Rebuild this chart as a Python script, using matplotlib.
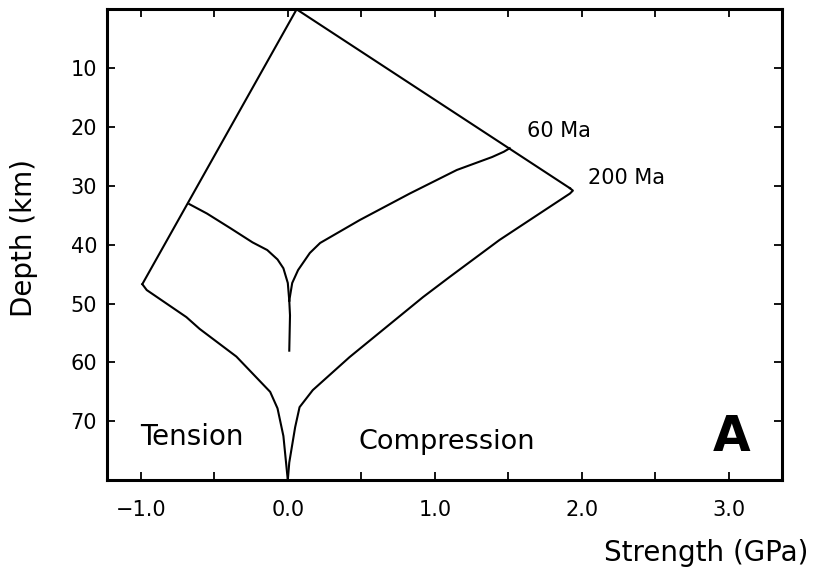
import matplotlib
matplotlib.use("Agg")
import matplotlib.pyplot as plt

# Brittle (frictional) envelope, strength in GPa vs depth in km
brittle_t_x = [0.06, -0.99]
brittle_t_z = [0.0, 46.7]
brittle_c_x = [0.06, 1.92]
brittle_c_z = [0.0, 30.4]

# 60 Ma ductile curve
ma60_t_x = [-0.67, -0.55, -0.39, -0.24, -0.14, -0.07, -0.03, 0.0, 0.01]
ma60_t_z = [33.1, 34.7, 37.2, 39.6, 40.9, 42.5, 44.0, 46.5, 49.5]
ma60_tail_x = [0.01, 0.015, 0.01]
ma60_tail_z = [49.5, 52.0, 58.0]
ma60_c_x = [0.01, 0.03, 0.07, 0.15, 0.22, 0.49, 0.83, 1.15, 1.39, 1.47, 1.51]
ma60_c_z = [49.5, 46.5, 44.3, 41.4, 39.7, 35.8, 31.3, 27.3, 25.1, 24.2, 23.6]

# 200 Ma ductile curve
ma200_t_x = [-0.99, -0.96, -0.69, -0.6, -0.35, -0.12, -0.07, -0.03, 0.0]
ma200_t_z = [46.7, 47.7, 52.3, 54.3, 59.0, 65.0, 67.8, 72.5, 80.0]
ma200_c_x = [0.0, 0.01, 0.05, 0.08, 0.17, 0.42, 0.92, 1.1, 1.44, 1.78, 1.92, 1.94, 1.92]
ma200_c_z = [80.0, 77.0, 71.0, 67.6, 64.7, 59.1, 48.9, 45.5, 39.2, 33.6, 31.3, 30.8, 30.4]

xticks = [-1.0, 0.0, 1.0, 2.0, 3.0]
xtick_labels = ["\u22121.0", "0.0", "1.0", "2.0", "3.0"]
xminor = [-0.5, 0.5, 1.5, 2.5]
yticks = [10, 20, 30, 40, 50, 60, 70]

fig = plt.figure(figsize=(8.16, 5.82), dpi=100)
ax = fig.add_axes([0.131, 0.175, 0.827, 0.809])

kw = dict(color="black", lw=1.5, solid_joinstyle="round")
ax.plot(brittle_t_x, brittle_t_z, **kw)
ax.plot(brittle_c_x, brittle_c_z, **kw)
ax.plot(ma60_t_x, ma60_t_z, **kw)
ax.plot(ma60_tail_x, ma60_tail_z, **kw)
ax.plot(ma60_c_x, ma60_c_z, **kw)
ax.plot(ma200_t_x, ma200_t_z, **kw)
ax.plot(ma200_c_x, ma200_c_z, **kw)

ax.set_xlim(-1.231, 3.361)
ax.set_ylim(80, 0)

ax.set_xticks(xticks)
ax.set_xticklabels(xtick_labels)
ax.set_xticks(xminor, minor=True)
ax.set_yticks(yticks)
ax.tick_params(which="both", direction="in", length=6, width=1.3,
               top=True, right=True, labelsize=15, colors="black")
ax.tick_params(axis="x", which="major", pad=14)
ax.tick_params(axis="y", which="major", pad=7)
for s in ax.spines.values():
    s.set_linewidth(2.2)

ax.text(-1.007, 74.0, "Tension", fontsize=20, ha="left", va="baseline")
ax.text(0.483, 74.7, "Compression", fontsize=19.5, ha="left", va="baseline")
ax.text(2.89, 75.0, "A", fontsize=35, fontweight="bold", ha="left", va="baseline")
ax.text(1.626, 21.7, "60 Ma", fontsize=15, ha="left", va="baseline")
ax.text(2.04, 29.7, "200 Ma", fontsize=15, ha="left", va="baseline")

fig.text(0.991, 0.036, "Strength (GPa)", fontsize=20, ha="right", va="baseline")
fig.text(0.029, 0.591, "Depth (km)", fontsize=20, rotation=90, ha="center", va="center")

fig.savefig("out.png", dpi=100)
